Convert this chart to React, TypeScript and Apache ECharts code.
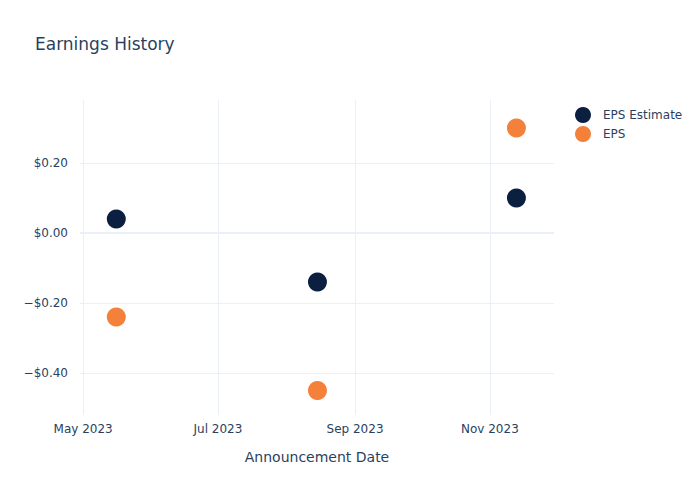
import React, { useEffect, useRef } from "react";
import * as echarts from "echarts";

const dates = ["2023-05-16", "2023-08-15", "2023-11-13"];
const epsEstimate = [0.04, -0.14, 0.1];
const eps = [-0.24, -0.45, 0.3];
const xTicks = ["2023-05-01", "2023-07-01", "2023-09-01", "2023-11-01"];
const xTickLabels = ["May 2023", "Jul 2023", "Sep 2023", "Nov 2023"];
const yTicks = [-0.4, -0.2, 0, 0.2];

const TEXT = "#2a3f5f";
const GRID = "#EBF0F8";
const FONT = "DejaVu Sans, Open Sans, sans-serif";

const ts = (d: string) => new Date(d + "T00:00:00Z").getTime();

function fmtMoney(v: number) {
  const r = Math.round(v * 100) / 100;
  const s = "$" + Math.abs(r).toFixed(2);
  return r < 0 ? "\u2212" + s : s;
}

export default function App() {
  const ref = useRef<HTMLDivElement>(null);
  useEffect(() => {
    if (!ref.current) return;
    const chart = echarts.init(ref.current, null, { renderer: "svg" });
    const xTickTs = xTicks.map(ts);
    chart.setOption({
      animation: false,
      textStyle: { fontFamily: FONT, color: TEXT },
      title: {
        text: "Earnings History",
        left: 30,
        top: 30,
        textStyle: { fontFamily: FONT, fontSize: 17, fontWeight: "normal", color: TEXT },
      },
      legend: {
        orient: "vertical",
        left: 570,
        top: 102,
        icon: "circle",
        itemWidth: 30,
        itemHeight: 16,
        itemGap: 3,
        textStyle: { fontFamily: FONT, fontSize: 12, color: TEXT },
        data: ["EPS Estimate", "EPS"],
      },
      grid: { left: 80, right: 146, top: 100, bottom: 85 },
      xAxis: {
        type: "value",
        min: ts("2023-04-29") + 14 * 3600 * 1000,
        max: ts("2023-11-30"),
        name: "Announcement Date",
        nameLocation: "middle",
        nameGap: 35,
        nameTextStyle: { fontFamily: FONT, fontSize: 14, color: TEXT },
        axisLine: { show: false },
        axisTick: { show: false, customValues: xTickTs },
        axisLabel: {
          customValues: xTickTs,
          fontFamily: FONT,
          fontSize: 12,
          color: TEXT,
          margin: 8,
          formatter: (v: number) => {
            const i = xTickTs.indexOf(v);
            return i >= 0 ? xTickLabels[i] : "";
          },
        },
        splitLine: { show: false },
      },
      yAxis: {
        type: "value",
        min: -0.52,
        max: 0.38,
        axisLine: { show: false },
        axisTick: { show: false, customValues: yTicks },
        axisLabel: {
          customValues: yTicks,
          fontFamily: FONT,
          fontSize: 12,
          color: TEXT,
          margin: 12,
          formatter: (v: number) => fmtMoney(v),
        },
        splitLine: { show: false },
      },
      series: [
        {
          name: "grid",
          type: "line",
          data: [],
          silent: true,
          legendHoverLink: false,
          markLine: {
            silent: true,
            symbol: "none",
            label: { show: false },
            data: [
              ...xTickTs.map((v) => ({ xAxis: v, lineStyle: { color: GRID, width: 1, type: "solid" } })),
              ...yTicks
                .filter((v) => v !== 0)
                .map((v) => ({ yAxis: v, lineStyle: { color: GRID, width: 1, type: "solid" } })),
              { yAxis: 0, lineStyle: { color: GRID, width: 2, type: "solid" } },
            ],
          },
        },
        {
          name: "EPS Estimate",
          type: "scatter",
          symbolSize: 19,
          itemStyle: { color: "#0b1f41", opacity: 1 },
          data: dates.map((d, i) => [ts(d), epsEstimate[i]]),
          z: 3,
        },
        {
          name: "EPS",
          type: "scatter",
          symbolSize: 19,
          itemStyle: { color: "#f5803a", opacity: 1 },
          data: dates.map((d, i) => [ts(d), eps[i]]),
          z: 3,
        },
      ],
    });
    return () => chart.dispose();
  }, []);
  return (
    <div
      ref={ref}
      style={{ position: "absolute", left: 0, top: 0, width: 700, height: 500 }}
    />
  );
}
